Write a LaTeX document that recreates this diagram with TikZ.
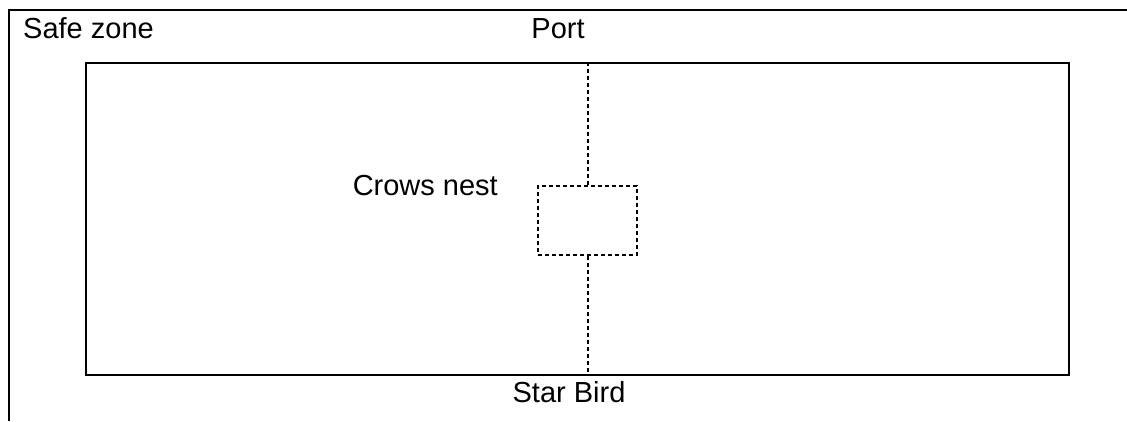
\documentclass[tikz,border=0pt]{standalone}
\usepackage{fontspec}
\setmainfont{Liberation Sans}
\begin{document}
\begin{tikzpicture}[x=1pt,y=-1pt,
  frame/.style={draw=black,line width=2pt},
  dashline/.style={draw=black,line width=2pt,dash pattern=on 4pt off 3pt},
  lbl/.style={font=\fontsize{29}{33}\selectfont,inner sep=0pt}]
\useasboundingbox[fill=white] (0,0) rectangle (1127,421);
\coordinate (ofbl) at (9,421);
\coordinate (oftl) at (9,10);
\coordinate (oftr) at (1127,10);
\draw[frame] (ofbl) -- (oftl) -- (oftr);
\node[frame,minimum width=983pt,minimum height=312pt,inner sep=0pt,anchor=north west] (ship) at (85,62) {};
\node[dashline,minimum width=99pt,minimum height=69pt,inner sep=0pt,anchor=north west] (nest) at (537,185) {};
\draw[dashline] (ship.north -| nest.north) -- (nest.north);
\draw[dashline] (nest.south) -- (ship.south -| nest.south);
\node[lbl,anchor=west] (safe) at (23,28) {Safe zone};
\node[lbl] (port) at (558,29) {Port};
\node[lbl,anchor=east] (crows) at (498,186) {Crows nest};
\node[lbl] (star) at (569,392) {Star Bird};
\end{tikzpicture}
\end{document}
